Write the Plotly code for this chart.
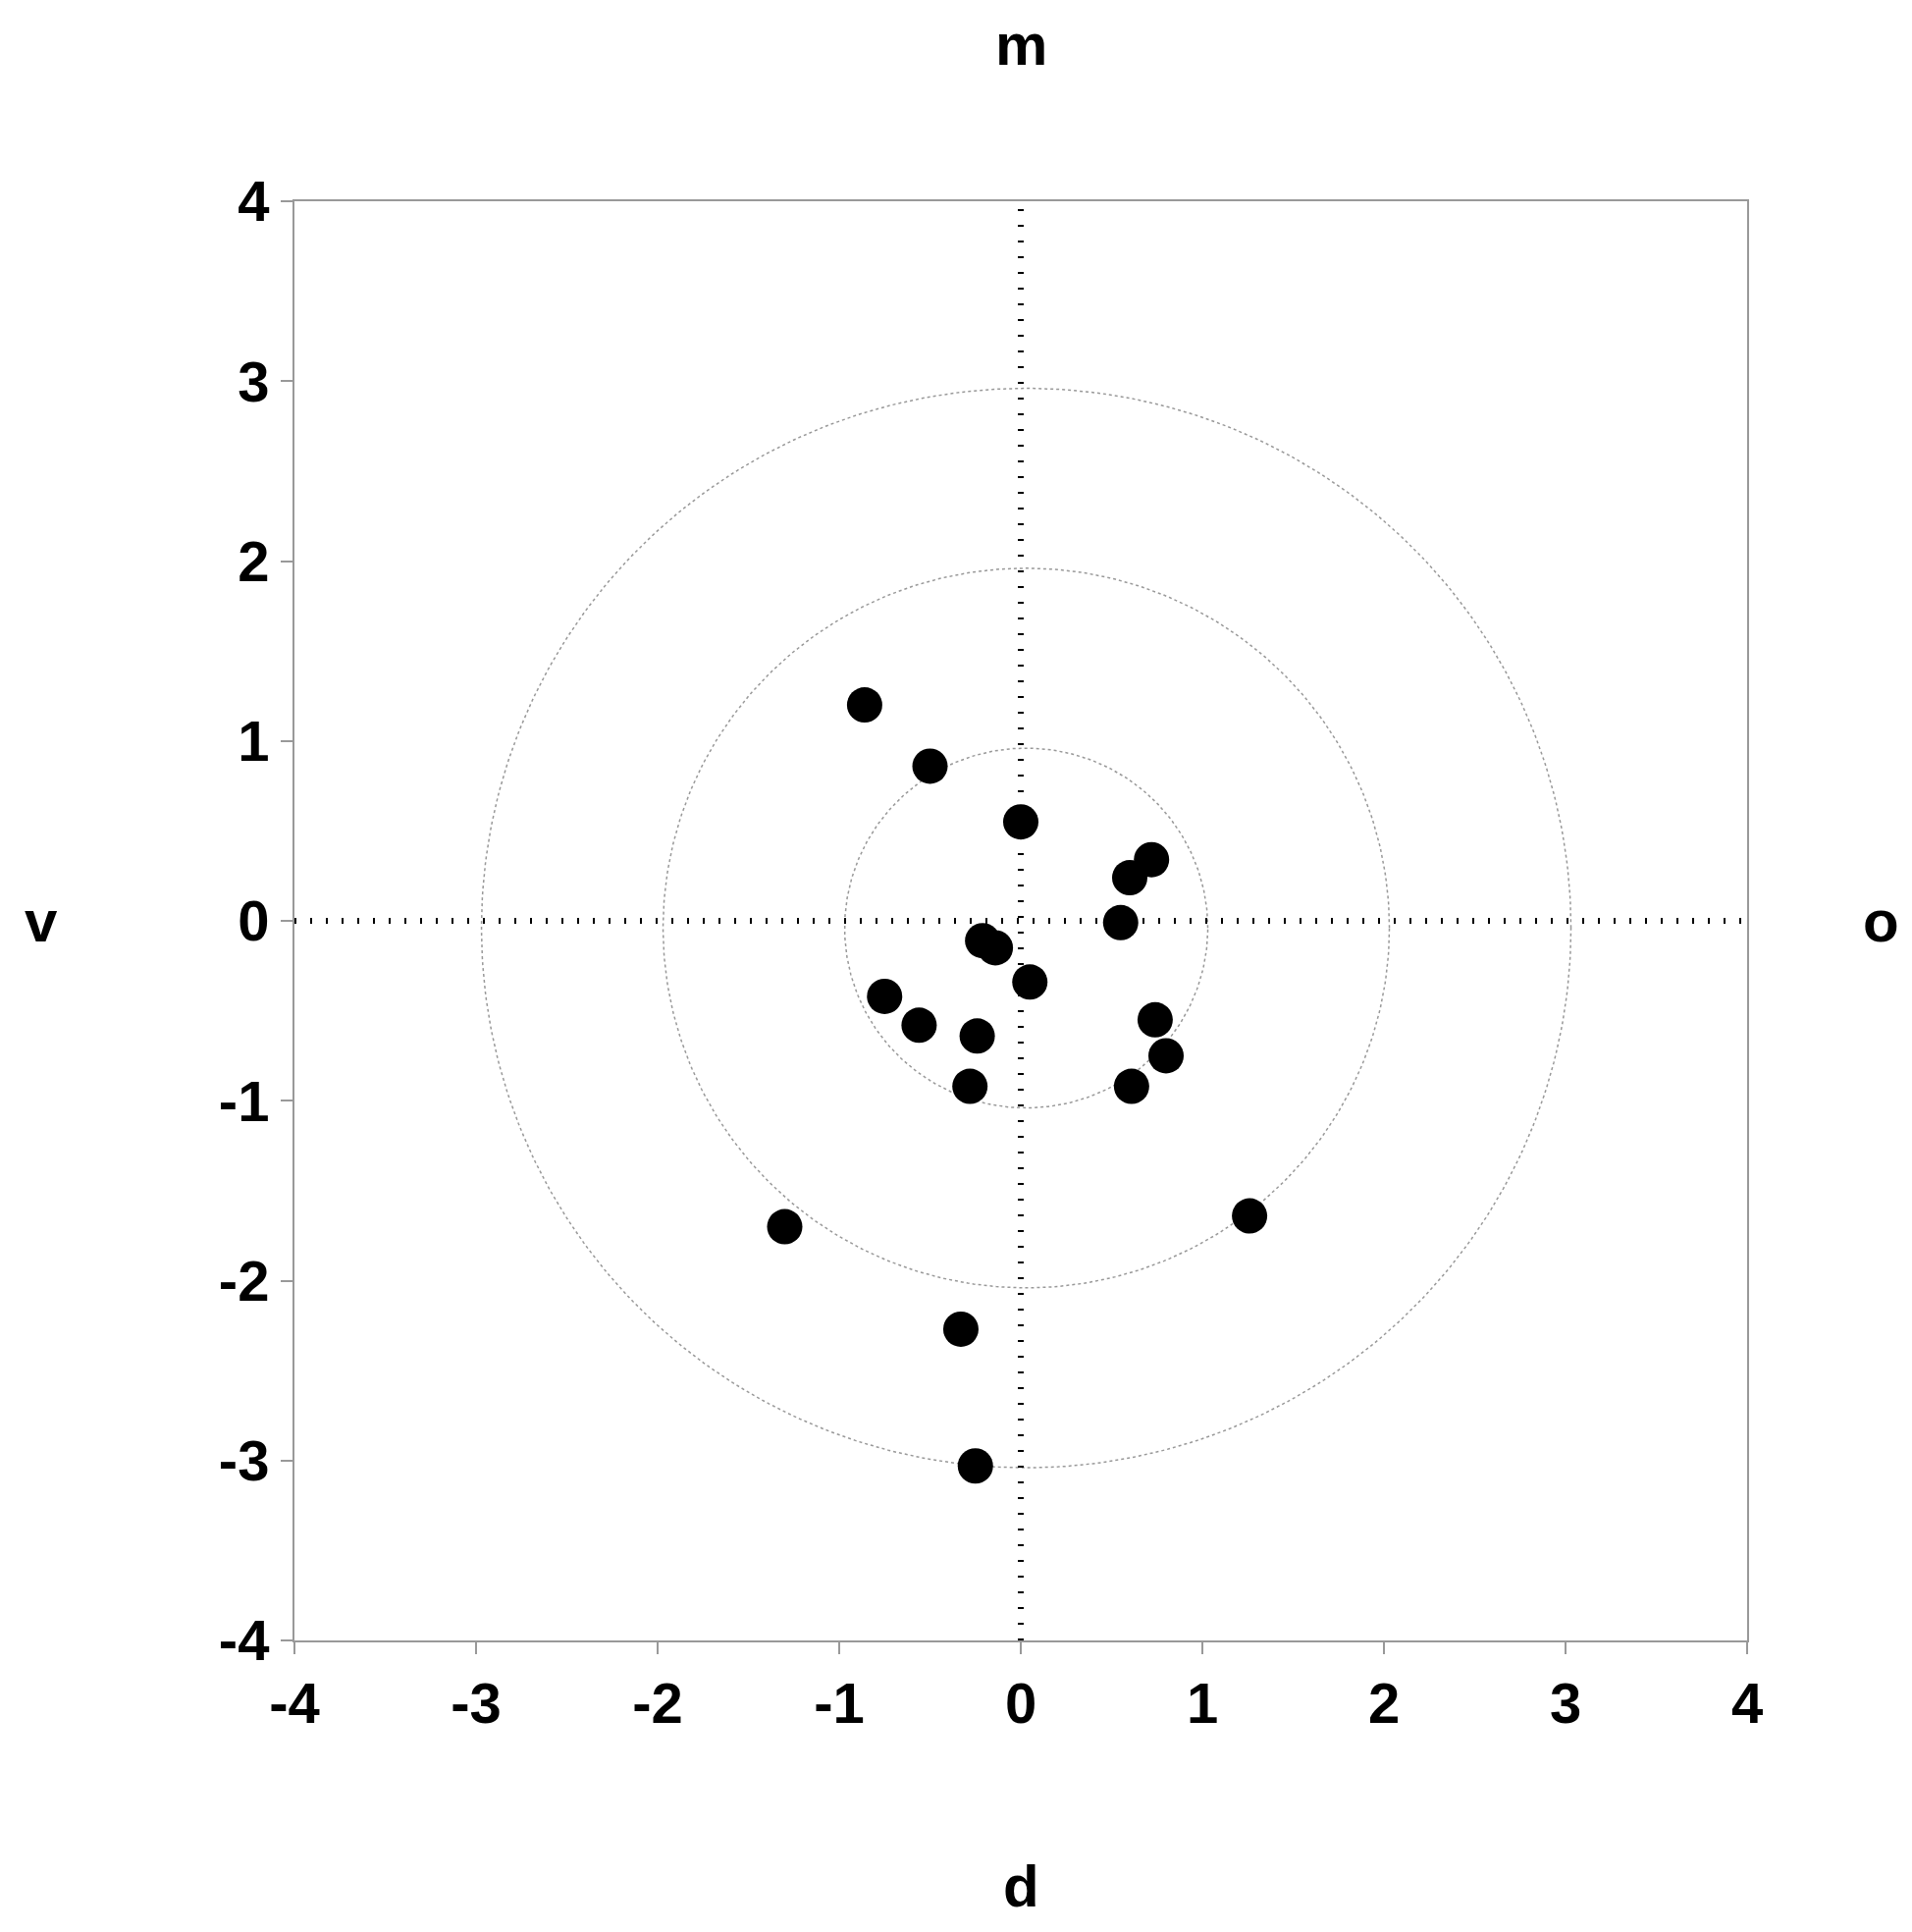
import plotly.graph_objects as go
import numpy as np

x_vals = [-0.86, -0.50, 0.00, 0.60, 0.72, 0.55, -0.21, -0.14, 0.05, -0.75, -0.56, -0.24, 0.74, 0.80, 0.61, -0.28, -1.30, 1.26, -0.33, -0.25]
y_vals = [1.20, 0.86, 0.55, 0.24, 0.34, -0.01, -0.11, -0.15, -0.34, -0.42, -0.58, -0.64, -0.55, -0.75, -0.92, -0.92, -1.70, -1.64, -2.27, -3.03]
ring_radii = [1, 2, 3]
ring_center = (0.03, -0.04)
ticks = [-4, -3, -2, -1, 0, 1, 2, 3, 4]
tick_text = ["-4", "-3", "-2", "-1", "0", "1", "2", "3", "4"]

fig = go.Figure()
t = np.linspace(0, 2 * np.pi, 400)
for r in ring_radii:
    fig.add_trace(go.Scatter(x=ring_center[0] + r * np.cos(t), y=ring_center[1] + r * np.sin(t),
                             mode="lines", line=dict(color="#999999", width=1.5, dash="dot"),
                             hoverinfo="skip", showlegend=False))
fig.add_trace(go.Scatter(x=[-4, 4], y=[0, 0], mode="lines", line=dict(color="black", width=6, dash="2px,14px"), showlegend=False))
fig.add_trace(go.Scatter(x=[0, 0], y=[-4, 4], mode="lines", line=dict(color="black", width=6, dash="2px,14px"), showlegend=False))
fig.add_trace(go.Scatter(x=x_vals, y=y_vals, mode="markers",
                         marker=dict(color="black", size=36), showlegend=False))

axis_common = dict(range=[-4, 4], tickvals=ticks, ticktext=tick_text, ticks="outside", ticklen=12, tickwidth=2,
                   tickcolor="#999999", showline=True, linecolor="#999999", linewidth=2,
                   mirror=True, showgrid=False, zeroline=False,
                   tickfont=dict(family="Liberation Sans", size=58, color="black", weight="bold"))
fig.update_xaxes(**axis_common)
fig.update_yaxes(**axis_common)

lab = dict(family="Liberation Sans", size=60, color="black", weight="bold")
fig.update_layout(
    width=1948, height=1968, plot_bgcolor="white", paper_bgcolor="white",
    margin=dict(l=292, r=176, t=197, b=305),
    annotations=[
        dict(text="m", x=0, y=4, xref="x", yref="y", yshift=160, showarrow=False, font=lab),
        dict(text="d", x=0, y=-4, xref="x", yref="y", yshift=-250, showarrow=False, font=lab),
        dict(text="v", x=-4, y=0, xref="x", yref="y", xshift=-258, showarrow=False, font=lab),
        dict(text="o", x=4, y=0, xref="x", yref="y", xshift=136, showarrow=False, font=lab),
    ],
)
fig.write_html("out.html")
